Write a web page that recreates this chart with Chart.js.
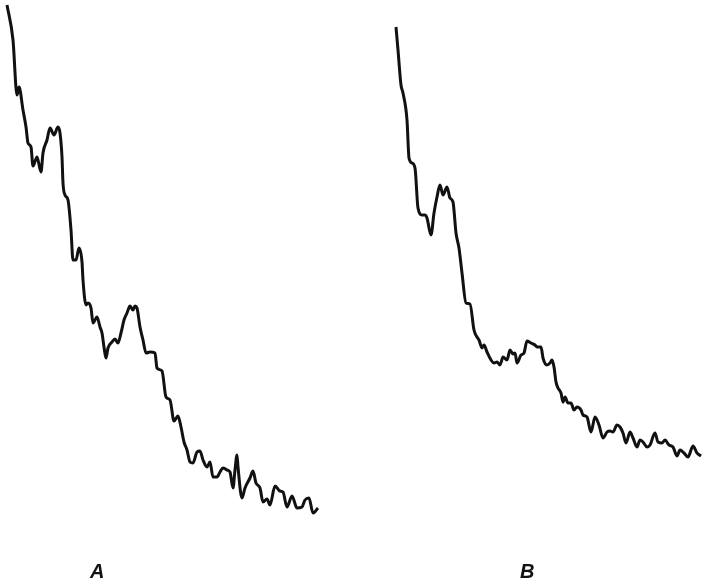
<!DOCTYPE html>
<html>
<head>
<meta charset="utf-8">
<script src="https://cdn.jsdelivr.net/npm/chart.js@4.4.1/dist/chart.umd.min.js"></script>
<style>
  body { margin: 0; background: #fff; }
  .wrap { position: relative; width: 702px; height: 583px; }
  .lbl { position: absolute; top: 560px; font: italic bold 20px "Liberation Sans", Arial, sans-serif; color: #111; }
</style>
</head>
<body>
<div class="wrap">
  <canvas id="chart"></canvas>
  <div class="lbl" style="left:90px">A</div>
  <div class="lbl" style="left:520px">B</div>
</div>
<script>
// trace A (x = channel, y = deflection)
const aX = [7,13,17,19,23,26,28,31,33,37,41,43,47,50,54,58,60,62,63,65,68,71,73,76,79,82,83,86,88,91,93,97,100,102,104,106,108,112,115,118,121,124,127,130,133,135,137,140,143,146,150,155,157,162,166,170,174,178,181,184,187,190,193,197,200,203,207,210,213,217,220,223,227,230,233,235,237,238,242,245,250,253,256,260,263,267,270,275,280,283,287,292,297,302,305,309,313,318];
const aY = [5,40,95,87,110,127,143,147,166,157,172,153,140,128,135,127,133,157,183,195,200,230,260,260,248,262,280,305,303,308,323,317,327,333,347,358,348,342,339,343,333,320,313,306,310,306,308,327,340,353,352,353,368,371,397,400,421,416,427,442,450,462,463,452,451,460,467,462,477,477,472,468,470,472,488,470,455,467,498,488,478,471,483,488,502,499,505,486,491,492,507,496,508,507,500,498,513,508];

// trace B
const bX = [396,398,401,403,407,409,412,415,418,422,425,427,431,434,437,440,443,447,450,453,456,459,462,466,470,474,477,479,482,484,487,491,494,497,500,503,507,510,513,515,517,521,524,527,531,535,537,541,543,547,550,552,554,556,558,561,563,565,568,571,574,577,581,583,587,591,595,599,603,607,610,613,617,620,623,626,630,633,637,640,643,647,650,655,658,662,665,669,673,677,680,684,688,693,697,701];
const bY = [27,50,85,93,120,158,163,168,208,215,215,218,235,213,197,185,195,187,198,202,233,248,273,303,304,330,337,340,348,345,352,360,363,362,365,357,360,350,354,353,363,355,353,341,343,345,347,347,358,365,363,360,367,382,388,393,402,397,403,403,410,407,410,415,417,432,417,425,438,432,431,432,425,427,433,443,432,438,447,440,442,447,445,433,442,443,440,445,447,456,450,453,457,446,453,456];

const toPts = (xs, ys) => xs.map((x, i) => ({ x: x, y: ys[i] }));

const line = {
  showLine: true,
  borderColor: '#111',
  borderWidth: 3,
  pointRadius: 0,
  cubicInterpolationMode: 'monotone',
  fill: false,
  clip: false
};

new Chart(document.getElementById('chart'), {
  type: 'scatter',
  data: {
    datasets: [
      Object.assign({ label: 'A', data: toPts(aX, aY) }, line),
      Object.assign({ label: 'B', data: toPts(bX, bY) }, line)
    ]
  },
  options: {
    responsive: true,
    maintainAspectRatio: false,
    animation: false,
    layout: { padding: 0 },
    plugins: { legend: { display: false }, tooltip: { enabled: false } },
    scales: {
      x: { type: 'linear', min: 0, max: 702, display: false },
      y: { type: 'linear', min: 0, max: 583, reverse: true, display: false }
    }
  }
});
</script>
</body>
</html>
